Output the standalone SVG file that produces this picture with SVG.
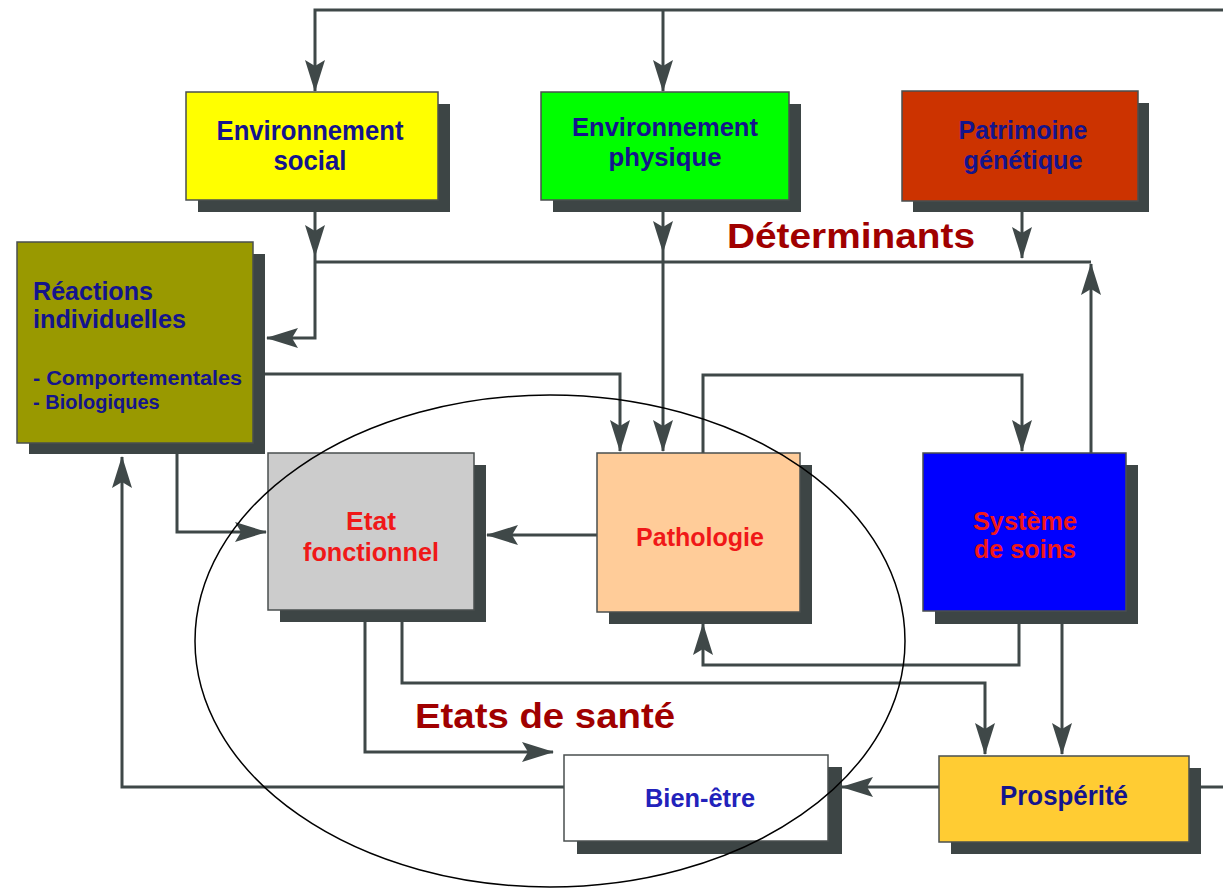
<svg xmlns="http://www.w3.org/2000/svg" width="1223" height="890" viewBox="0 0 1223 890">
<style>
.shadow{fill:#3d4545}
.box{stroke:#4a4f4f;stroke-width:1.5}
.t{font-family:"Liberation Sans",Arial,sans-serif;font-weight:bold;fill:#14148c;text-anchor:middle}
.l{text-anchor:start}
.r{font-family:"Liberation Sans",Arial,sans-serif;font-weight:bold;fill:#f01818;text-anchor:middle}
.big{font-family:"Liberation Sans",Arial,sans-serif;font-weight:bold;fill:#a00000;font-size:35px}
.c{fill:none;stroke:#3f4848;stroke-width:3}
</style>
<defs>
<marker id="ah" markerUnits="userSpaceOnUse" markerWidth="32" markerHeight="20" refX="31" refY="10" orient="auto">
<path d="M0,0 L32,10 L0,20 L6,10 z" fill="#3f4848"/>
</marker>
</defs>
<rect width="1223" height="890" fill="#ffffff"/>

<g id="connectors">
<path class="c" d="M1223,10 H315 V91" marker-end="url(#ah)"/>
<path class="c" d="M663,10 V91" marker-end="url(#ah)"/>
<path class="c" d="M315,212 V256" marker-end="url(#ah)"/>
<path class="c" d="M315,256 V338 H267" marker-end="url(#ah)"/>
<path class="c" d="M1022,212 V258" marker-end="url(#ah)"/>
<path class="c" d="M315,262 H1091"/>
<path class="c" d="M1091,453 V264" marker-end="url(#ah)"/>
<path class="c" d="M663,212 V252" marker-end="url(#ah)"/>
<path class="c" d="M663,252 V451" marker-end="url(#ah)"/>
<path class="c" d="M265,374 H620 V451" marker-end="url(#ah)"/>
<path class="c" d="M703,453 V375 H1022 V451" marker-end="url(#ah)"/>
<path class="c" d="M597,535 H487" marker-end="url(#ah)"/>
<path class="c" d="M177,454 V532 H266" marker-end="url(#ah)"/>
<path class="c" d="M1019,622 V665 H703 V624" marker-end="url(#ah)"/>
<path class="c" d="M1062,624 V754" marker-end="url(#ah)"/>
<path class="c" d="M402,622 V683 H985 V754" marker-end="url(#ah)"/>
<path class="c" d="M365,622 V752 H553" marker-end="url(#ah)"/>
<path class="c" d="M564,787 H122 V457" marker-end="url(#ah)"/>
<path class="c" d="M939,787 H842" marker-end="url(#ah)"/>
<path class="c" d="M1201,787 H1223"/>
</g>

<g id="env-social">
<rect class="shadow" x="198" y="104" width="252" height="108"/>
<rect class="box" x="186" y="92" width="252" height="108" fill="#ffff00"/>
<text class="t" font-size="27" x="310" y="140" textLength="187" lengthAdjust="spacingAndGlyphs">Environnement</text>
<text class="t" font-size="27" x="310" y="170" textLength="73" lengthAdjust="spacingAndGlyphs">social</text>
</g>

<g id="env-physique">
<rect class="shadow" x="553" y="104" width="248" height="108"/>
<rect class="box" x="541" y="92" width="248" height="108" fill="#00ff00"/>
<text class="t" font-size="25" x="665" y="136" textLength="186" lengthAdjust="spacingAndGlyphs">Environnement</text>
<text class="t" font-size="25" x="665" y="166" textLength="113" lengthAdjust="spacingAndGlyphs">physique</text>
</g>

<g id="patrimoine">
<rect class="shadow" x="913" y="103" width="236" height="109"/>
<rect class="box" x="902" y="91" width="236" height="110" fill="#cc3300"/>
<text class="t" font-size="25" x="1023" y="139" textLength="129" lengthAdjust="spacingAndGlyphs">Patrimoine</text>
<text class="t" font-size="25" x="1023" y="169" textLength="119" lengthAdjust="spacingAndGlyphs">génétique</text>
</g>

<text class="big" x="727" y="248" textLength="248" lengthAdjust="spacingAndGlyphs">Déterminants</text>

<g id="reactions">
<rect class="shadow" x="29" y="254" width="236" height="200"/>
<rect class="box" x="17" y="242" width="236" height="201" fill="#999900"/>
<text class="t l" font-size="26" x="33" y="300" textLength="120" lengthAdjust="spacingAndGlyphs">Réactions</text>
<text class="t l" font-size="26" x="33" y="328" textLength="153" lengthAdjust="spacingAndGlyphs">individuelles</text>
<text class="t l" font-size="20" x="33" y="385" textLength="209" lengthAdjust="spacingAndGlyphs">- Comportementales</text>
<text class="t l" font-size="20" x="33" y="409">- Biologiques</text>
</g>

<g id="etat-fonctionnel">
<rect class="shadow" x="280" y="465" width="206" height="157"/>
<rect class="box" x="268" y="453" width="206" height="157" fill="#cccccc"/>
<text class="r" font-size="26" x="371" y="530" textLength="50" lengthAdjust="spacingAndGlyphs">Etat</text>
<text class="r" font-size="26" x="371" y="561" textLength="136" lengthAdjust="spacingAndGlyphs">fonctionnel</text>
</g>

<g id="pathologie">
<rect class="shadow" x="609" y="465" width="203" height="159"/>
<rect class="box" x="597" y="453" width="203" height="159" fill="#ffcc99"/>
<text class="r" font-size="26" x="700" y="546" textLength="128" lengthAdjust="spacingAndGlyphs">Pathologie</text>
</g>

<g id="systeme-soins">
<rect class="shadow" x="935" y="465" width="203" height="159"/>
<rect class="box" x="923" y="453" width="203" height="158" fill="#0000ff"/>
<text class="r" font-size="26" x="1025" y="530" textLength="104" lengthAdjust="spacingAndGlyphs">Système</text>
<text class="r" font-size="26" x="1025" y="558" textLength="102" lengthAdjust="spacingAndGlyphs">de soins</text>
</g>

<g id="bien-etre">
<rect class="shadow" x="577" y="767" width="265" height="87"/>
<rect class="box" x="564" y="755" width="264" height="86" fill="#ffffff"/>
<text font-family="Liberation Sans, Arial, sans-serif" font-weight="bold" font-size="26" fill="#2222bb" text-anchor="middle" x="700" y="807" textLength="110" lengthAdjust="spacingAndGlyphs">Bien-être</text>
</g>

<g id="prosperite">
<rect class="shadow" x="951" y="768" width="250" height="86"/>
<rect class="box" x="939" y="756" width="250" height="86" fill="#ffcc33"/>
<text class="t" font-size="27" x="1064" y="805" textLength="128" lengthAdjust="spacingAndGlyphs">Prospérité</text>
</g>

<text class="big" x="415" y="728" textLength="260" lengthAdjust="spacingAndGlyphs">Etats de santé</text>

<ellipse cx="550" cy="641" rx="355" ry="246" fill="none" stroke="#000000" stroke-width="1.5"/>
</svg>
